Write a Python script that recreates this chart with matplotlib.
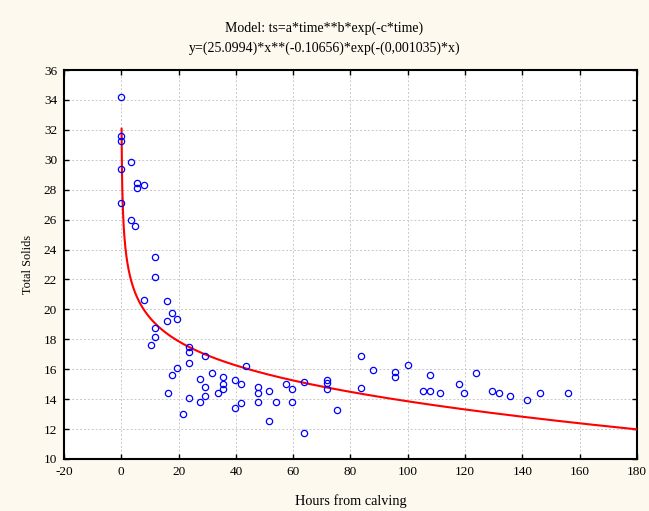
import numpy as np
import matplotlib.pyplot as plt

# Total solids measurements against hours after calving
hours = [0, 0, 0, 0, 0, 3.4, 5.4, 5.4, 7.9, 3.4, 4.8,
         11.6, 11.6, 11.6, 11.6, 7.9, 15.8, 15.8, 17.6, 17.6, 19.5, 19.5,
         10.2, 23.8, 23.8, 23.8, 23.8, 29.3, 29.3, 29.3, 43.5, 31.8,
         27.4, 27.4, 35.4, 35.4, 35.4, 39.7, 39.7, 41.7, 41.7, 33.7,
         16.3, 21.4, 47.8, 47.8, 47.8, 51.5, 51.5, 53.9, 57.5, 59.5, 59.5,
         63.8, 63.8, 71.7, 71.7, 71.7, 75.3, 83.5, 83.5, 87.7, 95.6, 95.6,
         100, 105.3, 107.9, 107.9, 111.4, 117.7, 119.5, 123.8, 129.3,
         131.9, 135.5, 141.6, 146, 155.8]
total_solids = [34.17, 31.59, 31.25, 29.36, 27.11, 29.83, 28.45, 28.13, 28.29, 25.97, 25.6,
                23.5, 22.16, 18.78, 18.17, 20.65, 20.56, 19.24, 19.74, 15.59, 19.35, 16.06,
                17.6, 17.5, 17.13, 16.41, 14.07, 16.88, 14.79, 14.21, 16.19, 15.73,
                15.37, 13.83, 15.48, 15.01, 14.66, 15.26, 13.38, 15.01, 13.72, 14.41,
                14.41, 13.0, 14.79, 14.43, 13.83, 14.54, 12.54, 13.83, 15.03, 14.66, 13.83,
                15.12, 11.72, 15.25, 15.1, 14.66, 13.25, 16.9, 14.77, 15.95, 15.83, 15.48,
                16.3, 14.54, 14.54, 15.59, 14.43, 15.01, 14.43, 15.73, 14.54,
                14.43, 14.19, 13.94, 14.43, 14.43]

# fitted model ts = a * time**b * exp(-c*time)
a = 25.0994
b = -0.10656
c = 0.001035

x_ticks = list(range(-20, 181, 20))
y_ticks = list(range(10, 37, 2))

plt.rcParams['font.family'] = 'Liberation Serif'
plt.rcParams['axes.unicode_minus'] = False

fig = plt.figure(figsize=(6.49, 5.11), dpi=100, facecolor='#fdf9ee')
ax = fig.add_axes([0.0986, 0.1018, 0.8829, 0.7612])
ax.set_facecolor('white')

t = np.linspace(0.1, 180, 1500)
ax.plot(t, a * t ** b * np.exp(-c * t), color='red', lw=1.5, zorder=3)
ax.plot(hours, total_solids, 'o', mfc='none', mec='blue', ms=4.5, mew=0.9, zorder=4)

ax.set_xlim(-20, 180)
ax.set_ylim(10, 36)
ax.set_xticks(x_ticks)
ax.set_yticks(y_ticks)
ax.tick_params(direction='in', length=3.5, width=1, labelsize=9.5, pad=5,
               top=True, right=True)
for s in ax.spines.values():
    s.set_linewidth(1.5)
ax.grid(True, color='#c8c8c8', linestyle=(0, (2, 2)), linewidth=0.7)
ax.set_axisbelow(True)

ax.set_xlabel('Hours from calving', fontsize=10.3, labelpad=12)
ax.set_ylabel('Total Solids', fontsize=8.8, labelpad=7)
fig.text(0.5, 0.944, 'Model: ts=a*time**b*exp(-c*time)', ha='center', va='center', fontsize=10)
fig.text(0.5, 0.906, 'y=(25.0994)*x**(-0.10656)*exp(-(0,001035)*x)', ha='center', va='center',
         fontsize=10)

fig.savefig('out.png', dpi=100, facecolor=fig.get_facecolor())
